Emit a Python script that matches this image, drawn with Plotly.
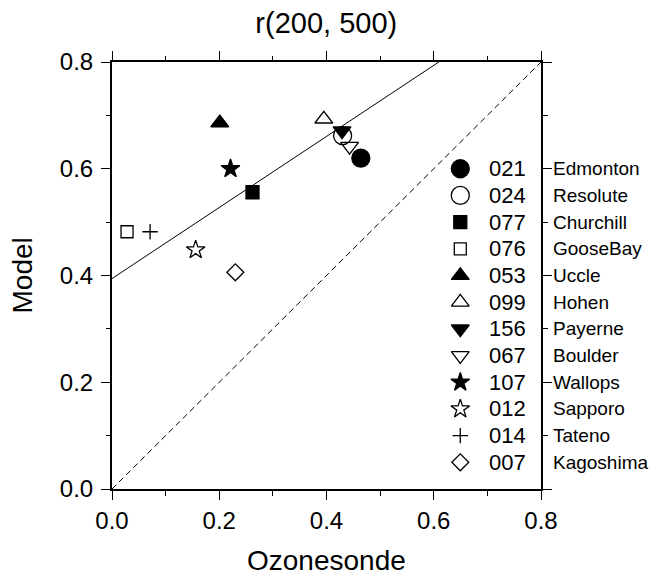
import numpy as np
import plotly.graph_objects as go

codes = ["021", "024", "077", "076", "053", "099", "156", "067", "107", "012", "014", "007"]
stations = ["Edmonton", "Resolute", "Churchill", "GooseBay", "Uccle", "Hohen",
            "Payerne", "Boulder", "Wallops", "Sapporo", "Tateno", "Kagoshima"]
ozonesonde = [0.464, 0.430, 0.262, 0.028, 0.201, 0.395, 0.429, 0.443, 0.221, 0.156, 0.071, 0.230]
model = [0.620, 0.662, 0.556, 0.482, 0.686, 0.693, 0.671, 0.642, 0.600, 0.448, 0.482, 0.406]
symbols = ["circle", "circle-open", "square", "square-open", "triangle-up", "triangle-up-open",
           "triangle-down", "triangle-down-open", "star", "star-open", "cross-thin-open", "diamond-open"]
sizes = [18, 18, 13, 12, 15.5, 15.5, 15.5, 15.5, 14, 14, 11, 13]

FONT = "Liberation Sans, Arial, Helvetica, sans-serif"

x = np.array(ozonesonde)
y = np.array(model)
# reduced major axis regression
slope = np.sign(np.corrcoef(x, y)[0, 1]) * y.std() / x.std()
intercept = y.mean() - slope * x.mean()

fig = go.Figure()

# 1:1 line
fig.add_trace(go.Scatter(x=[0, 0.8], y=[0, 0.8], mode="lines",
                         line=dict(color="black", width=1, dash="6px,4px"), hoverinfo="skip"))
# regression line
xl = np.array([0, 0.8])
fig.add_trace(go.Scatter(x=xl, y=intercept + slope * xl, mode="lines",
                         line=dict(color="black", width=1), hoverinfo="skip"))

# data points
for i in range(len(codes)):
    fig.add_trace(go.Scatter(
        x=[ozonesonde[i]], y=[model[i]], mode="markers",
        marker=dict(symbol=symbols[i], size=sizes[i], color="black",
                    line=dict(color="black", width=1.3)),
        name=codes[i]))

# manual legend
leg_y = [0.6 - 0.05 * i for i in range(len(codes))]
for i in range(len(codes)):
    fig.add_trace(go.Scatter(
        x=[0.6495], y=[leg_y[i]], mode="markers",
        marker=dict(symbol=symbols[i], size=sizes[i], color="black",
                    line=dict(color="black", width=1.3)),
        hoverinfo="skip"))
    fig.add_annotation(x=0.70, y=leg_y[i], xref="x", yref="y", text=codes[i],
                       showarrow=False, xanchor="left", yanchor="middle",
                       font=dict(family=FONT, size=22, color="black"))
    fig.add_annotation(x=1, y=leg_y[i], xref="paper", yref="y", text=stations[i],
                       showarrow=False, xanchor="left", yanchor="middle", xshift=10,
                       font=dict(family=FONT, size=19, color="black"))

# axis titles
fig.add_annotation(x=0.5, y=0, xref="paper", yref="paper", text="Ozonesonde",
                   showarrow=False, xanchor="center", yanchor="middle", yshift=-71,
                   borderpad=0,
                   font=dict(family=FONT, size=28, color="black"))
fig.add_annotation(x=0, y=0.5, xref="paper", yref="paper", text="Model",
                   showarrow=False, xanchor="center", yanchor="middle", xshift=-90,
                   textangle=-90, font=dict(family=FONT, size=28, color="black"))

axis_common = dict(range=[0, 0.8], dtick=0.2, tick0=0, tickformat=".1f",
                   showgrid=False, zeroline=False, showline=True, linewidth=2,
                   linecolor="black", mirror="allticks", ticks="outside",
                   ticklen=9, tickwidth=1.3, tickcolor="black",
                   tickfont=dict(family=FONT, size=24, color="black"),
                   minor=dict(dtick=0.1, ticks="outside", ticklen=4.5, tickwidth=1.3,
                              tickcolor="black", showgrid=False))

fig.update_layout(
    width=650, height=578,
    margin=dict(l=112, r=109, t=62, b=89),
    paper_bgcolor="white", plot_bgcolor="white",
    showlegend=False,
    title=dict(text="r(200, 500)", x=0.502, xanchor="center", y=1 - 23 / 578,
               yanchor="middle", font=dict(family=FONT, size=29, color="black")),
    xaxis=dict(**axis_common),
    yaxis=dict(**axis_common, ticklabelstandoff=3),
)

fig.write_html("out.html")
